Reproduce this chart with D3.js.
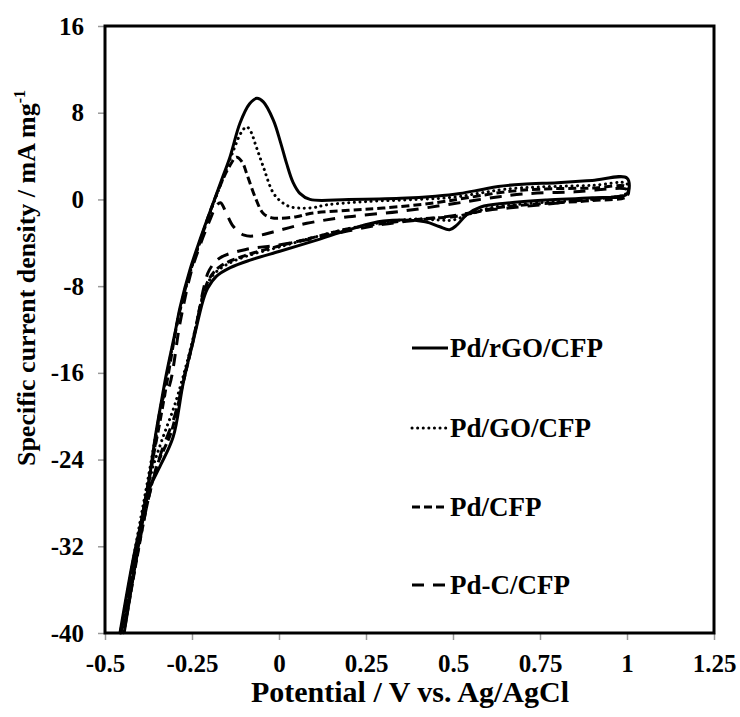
<!DOCTYPE html>
<html>
<head>
<meta charset="utf-8">
<script src="https://cdn.jsdelivr.net/npm/d3@7"></script>
<style>
  body { margin: 0; background: #fff; }
  svg text { font-family: "Liberation Serif", "Times New Roman", serif; font-weight: bold; fill: #000; }
</style>
</head>
<body>
<div id="chart"></div>
<script>
// Tick values
const xTicks = [-0.5, -0.25, 0, 0.25, 0.5, 0.75, 1, 1.25];
const yTicks = [-40, -32, -24, -16, -8, 0, 8, 16];

// Pd/rGO/CFP (solid)
const rgoE = [-0.457, -0.418, -0.382, -0.356, -0.34, -0.323, -0.30, -0.284, -0.256, -0.227, -0.193, -0.165, -0.141, -0.112, -0.085, -0.064, -0.045, -0.016, 0.005, 0.022, 0.04, 0.06, 0.089, 0.2, 0.35, 0.45, 0.52, 0.58, 0.63, 0.7, 0.8, 0.9, 1.0,
  1.0, 0.9, 0.77, 0.65, 0.58, 0.54, 0.51, 0.49, 0.46, 0.42, 0.3, 0.2, 0.108, 0.0, -0.083, -0.14, -0.18, -0.205, -0.218, -0.246, -0.275, -0.304, -0.34, -0.37, -0.38, -0.445];
const rgoJ = [-40, -33, -27.7, -22, -19, -16, -12.5, -9.9, -6.5, -3.7, -0.67, 1.8, 3.9, 7.05, 8.8, 9.33, 9.0, 7.3, 5.2, 3.3, 1.6, 0.56, 0.0, 0.0, 0.1, 0.3, 0.55, 0.9, 1.2, 1.4, 1.55, 1.75, 1.97,
  0.5, 0.15, -0.05, -0.35, -0.7, -1.4, -2.4, -2.8, -2.5, -2.05, -2.0, -2.8, -3.75, -4.8, -5.6, -6.3, -7.1, -8.2, -9.3, -13, -16.9, -21.9, -24.5, -26.5, -27.7, -40];

// Pd/GO/CFP (dotted)
const goE = [-0.455, -0.412, -0.372, -0.35, -0.323, -0.284, -0.256, -0.227, -0.193, -0.16, -0.13, -0.108, -0.093, -0.08, -0.069, -0.045, -0.016, 0.01, 0.032, 0.06, 0.1, 0.137, 0.25, 0.4, 0.5, 0.58, 0.65, 0.75, 0.9, 1.0,
  1.0, 0.9, 0.75, 0.62, 0.56, 0.5, 0.46, 0.4, 0.3, 0.2, 0.1, 0.0, -0.09, -0.15, -0.19, -0.215, -0.23, -0.26, -0.3, -0.325, -0.345, -0.365, -0.388, -0.447];
const goJ = [-40, -32, -25, -21, -16.3, -10.2, -6.8, -3.9, -0.8, 2.0, 4.6, 6.2, 6.7, 6.2, 5.2, 3.0, 0.57, -0.3, -0.67, -0.8, -0.75, -0.5, -0.2, 0.0, 0.2, 0.6, 0.95, 1.15, 1.3, 1.45,
  0.6, 0.0, -0.3, -0.7, -1.2, -1.9, -1.9, -1.8, -2.1, -2.7, -3.5, -4.4, -5.2, -6.0, -7.0, -8.5, -10.5, -14.5, -19, -21.2, -23, -25, -28.5, -40];

// Pd/CFP (short dash)
const cfpE = [-0.456, -0.412, -0.372, -0.345, -0.32, -0.29, -0.26, -0.23, -0.2, -0.17, -0.145, -0.122, -0.105, -0.093, -0.069, -0.045, -0.02, 0.003, 0.05, 0.089, 0.2, 0.3, 0.45, 0.55, 0.65, 0.75, 0.9, 1.0,
  1.0, 0.9, 0.75, 0.62, 0.55, 0.5, 0.45, 0.35, 0.2, 0.1, 0.0, -0.1, -0.17, -0.2, -0.22, -0.25, -0.28, -0.31, -0.35, -0.378, -0.446];
const cfpJ = [-40, -32.5, -25.5, -21, -16.5, -11, -7.2, -4.2, -1.3, 1.2, 2.9, 3.9, 3.4, 2.4, 0.25, -1.3, -1.7, -1.74, -1.6, -1.3, -1.0, -0.8, -0.3, 0.2, 0.7, 0.95, 1.05, 1.15,
  0.3, -0.1, -0.4, -0.8, -1.3, -1.6, -1.7, -2.0, -2.7, -3.5, -4.3, -5.2, -6.2, -7.3, -9.0, -13.5, -17.5, -21.5, -24.5, -28, -40];

// Pd-C/CFP (long dash)
const pdcE = [-0.454, -0.40, -0.36, -0.335, -0.315, -0.285, -0.255, -0.23, -0.2, -0.18, -0.168, -0.155, -0.131, -0.1, -0.064, -0.017, 0.03, 0.08, 0.2, 0.35, 0.5, 0.6, 0.7, 0.85, 1.0,
  1.0, 0.9, 0.75, 0.6, 0.5, 0.4, 0.3, 0.2, 0.1, 0.0, -0.093, -0.17, -0.2, -0.215, -0.24, -0.27, -0.3, -0.34, -0.378, -0.448];
const pdcJ = [-40, -30.5, -23.5, -18.5, -17.2, -11.5, -7, -4.5, -2.0, -0.6, -0.3, -1.0, -2.5, -3.3, -3.35, -3.0, -2.6, -2.2, -1.6, -1.1, -0.4, 0.1, 0.5, 0.7, 0.9,
  0.5, 0.05, -0.5, -1.0, -1.5, -1.9, -2.3, -2.9, -3.6, -4.2, -4.6, -5.4, -6.5, -8, -12, -16, -20, -23.5, -28, -40];

const seriesNames = ["Pd/rGO/CFP", "Pd/GO/CFP", "Pd/CFP", "Pd-C/CFP"];

const series = [
  { name: seriesNames[0], E: rgoE, J: rgoJ, dash: null, width: 3, cap: "butt" },
  { name: seriesNames[1], E: goE, J: goJ, dash: "0.1,5.5", width: 3, cap: "round" },
  { name: seriesNames[2], E: cfpE, J: cfpJ, dash: "8,4", width: 3, cap: "butt" },
  { name: seriesNames[3], E: pdcE, J: pdcJ, dash: "12,9", width: 3, cap: "butt" }
];

const W = 740, H = 717;
const margin = { left: 105, right: 714, top: 26, bottom: 633 };

const svg = d3.select("#chart").append("svg")
  .attr("width", W).attr("height", H);

const x = d3.scaleLinear().domain([-0.5, 1.25]).range([margin.left, margin.right]);
const y = d3.scaleLinear().domain([-40, 16]).range([margin.bottom, margin.top]);

// Eixos
svg.append("g")
  .attr("transform", `translate(0,${margin.bottom})`)
  .call(d3.axisBottom(x).tickValues(xTicks).tickSize(7).tickPadding(14).tickFormat(d => String(d)))
  .call(g => g.select(".domain").remove())
  .call(g => g.selectAll("line").attr("stroke", "#999").attr("stroke-width", 1.5))
  .call(g => g.selectAll("text").style("font-size", "25px").style("font-family", "Liberation Serif").style("font-weight", "bold").attr("fill", "#000"));

svg.append("g")
  .attr("transform", `translate(${margin.left},0)`)
  .call(d3.axisLeft(y).tickValues(yTicks).tickSize(7).tickPadding(14).tickFormat(d => String(d)))
  .call(g => g.select(".domain").remove())
  .call(g => g.selectAll("line").attr("stroke", "#999").attr("stroke-width", 1.5))
  .call(g => g.selectAll("text").style("font-size", "25px").style("font-family", "Liberation Serif").style("font-weight", "bold").attr("fill", "#000"));

// Corbes
const line = d3.line()
  .x(d => x(d[0]))
  .y(d => y(d[1]))
  .curve(d3.curveCatmullRom.alpha(0.5));

series.forEach(s => {
  const pts = s.E.map((e, i) => [e, s.J[i]]);
  svg.append("path")
    .datum(pts)
    .attr("d", line)
    .attr("fill", "none")
    .attr("stroke", "#000")
    .attr("stroke-width", s.width)
    .attr("stroke-linecap", s.cap)
    .attr("stroke-linejoin", "round")
    .attr("stroke-dasharray", s.dash);
});

// Marc
svg.append("rect")
  .attr("x", margin.left).attr("y", margin.top)
  .attr("width", margin.right - margin.left).attr("height", margin.bottom - margin.top)
  .attr("fill", "none")
  .attr("stroke", "#000")
  .attr("stroke-width", 3);

// Llegenda
const legendY = [348, 428, 507, 585];
series.forEach((s, i) => {
  const g = svg.append("g").attr("transform", `translate(412,${legendY[i]})`);
  g.append("line")
    .attr("x1", 0).attr("x2", 36)
    .attr("y1", 0).attr("y2", 0)
    .attr("stroke", "#000")
    .attr("stroke-width", 3)
    .attr("stroke-linecap", s.cap)
    .attr("stroke-dasharray", s.dash);
  g.append("text")
    .attr("x", 38).attr("y", 9)
    .style("font-size", "27px")
    .text(s.name);
});

// Títols dels eixos
svg.append("text")
  .attr("x", 410).attr("y", 702)
  .attr("text-anchor", "middle")
  .style("font-size", "30px")
  .text("Potential / V vs. Ag/AgCl");

const yt = svg.append("text")
  .attr("transform", "translate(35,278) rotate(-90)")
  .attr("text-anchor", "middle")
  .style("font-size", "26px");
yt.append("tspan").text("Specific current density / mA mg");
yt.append("tspan").attr("dy", -10).style("font-size", "16px").text("-1");
</script>
</body>
</html>
